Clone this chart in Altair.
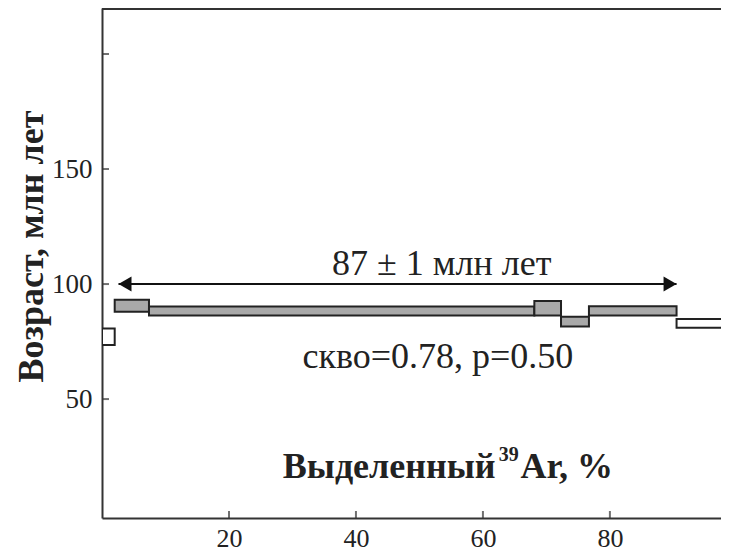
import altair as alt
import pandas as pd

# ---- data ----
step_start = [0.0, 2.0, 7.4, 68.1, 72.3, 76.7, 90.5]
step_end = [2.0, 7.4, 68.1, 72.3, 76.7, 90.5, 100.0]
age_low = [73.5, 88.0, 86.3, 86.3, 81.5, 86.3, 81.0]
age_high = [80.7, 93.2, 90.2, 92.6, 85.8, 90.4, 84.8]
in_plateau = ["нет", "да", "да", "да", "да", "да", "нет"]

plateau_from = 2.6
plateau_to = 90.5
plateau_age = 100

x_ticks = [20, 40, 60, 80]
y_ticks = [50, 100, 150, 200]
y_labels = [50, 100, 150]

W, H = 619, 510
FONT = "Liberation Serif"
INK = "#222222"

steps = pd.DataFrame({"x0": step_start, "x1": step_end, "lo": age_low,
                      "hi": age_high, "p": in_plateau})

xs = alt.Scale(domain=[0, 97.5], nice=False, zero=False)
ys = alt.Scale(domain=[-1.7, 220], nice=False, zero=False)

x_axis = alt.Axis(values=x_ticks, ticks=False, grid=False,
                  labelFont=FONT, labelFontSize=26, labelColor=INK, labelPadding=7,
                  domainColor="#333333", domainWidth=2, title=None)
y_axis = alt.Axis(values=y_labels, ticks=False, grid=False,
                  labelFont=FONT, labelFontSize=27, labelColor=INK, labelPadding=10,
                  domainColor="#333333", domainWidth=2,
                  title="Возраст, млн лет", titleFont=FONT, titleFontSize=36,
                  titleFontWeight="bold", titleColor=INK, titleAngle=270,
                  titleAlign="center", titleBaseline="alphabetic", titleX=-60, titleY=238)


def X(f):
    return alt.X(f, scale=xs, axis=x_axis)


def Y(f):
    return alt.Y(f, scale=ys, axis=y_axis)


rects = alt.Chart(steps).mark_rect(stroke=INK, strokeWidth=2, clip=True).encode(
    x=X("x0:Q"), x2="x1:Q", y=Y("lo:Q"), y2="hi:Q",
    fill=alt.Fill("p:N", scale=alt.Scale(domain=["да", "нет"], range=["#a9a9a9", "#ffffff"]),
                  legend=None),
)

arrow_df = pd.DataFrame({"a": [plateau_from], "b": [plateau_to], "y": [plateau_age]})
arrow = alt.Chart(arrow_df).mark_rule(color="#111111", strokeWidth=2).encode(
    x=X("a:Q"), x2="b:Q", y=Y("y:Q"))

head_l = alt.Chart(arrow_df).mark_point(shape="triangle-left", size=225, filled=True,
                                        color="#111111", opacity=1, xOffset=6.5).encode(
    x=X("a:Q"), y=Y("y:Q"))
head_r = alt.Chart(arrow_df).mark_point(shape="triangle-right", size=225, filled=True,
                                        color="#111111", opacity=1, xOffset=-6.5).encode(
    x=X("b:Q"), y=Y("y:Q"))

ann = pd.DataFrame({
    "t": ["87 ± 1 млн лет", "скво=0.78, p=0.50"],
    "x": [53.5, 52.9], "y": [104.0, 63.3]})
ann_text = alt.Chart(ann).mark_text(font=FONT, fontSize=36, color=INK,
                                    baseline="alphabetic", align="center").encode(
    x=X("x:Q"), y=Y("y:Q"), text="t:N")

xt1 = alt.Chart(pd.DataFrame({"t": ["Выделенный"], "x": [62.0], "y": [15.5]})).mark_text(
    font=FONT, fontSize=36, fontWeight="bold", color=INK, baseline="alphabetic", align="right"
).encode(x=X("x:Q"), y=Y("y:Q"), text="t:N")
xt2 = alt.Chart(pd.DataFrame({"t": ["39"], "x": [62.5], "y": [23.0]})).mark_text(
    font=FONT, fontSize=20, fontWeight="bold", color=INK, baseline="alphabetic", align="left"
).encode(x=X("x:Q"), y=Y("y:Q"), text="t:N")
xt3 = alt.Chart(pd.DataFrame({"t": ["Ar, %"], "x": [65.9], "y": [15.5]})).mark_text(
    font=FONT, fontSize=36, fontWeight="bold", color=INK, baseline="alphabetic", align="left"
).encode(x=X("x:Q"), y=Y("y:Q"), text="t:N")

ytick = alt.Chart(pd.DataFrame({"v": y_ticks})).mark_tick(
    orient="horizontal", size=7, thickness=2, color="#333333").encode(
    y=Y("v:Q"), x=alt.value(3.5))
xtick = alt.Chart(pd.DataFrame({"v": x_ticks})).mark_tick(
    orient="vertical", size=7, thickness=2, color="#333333").encode(
    x=X("v:Q"), y=alt.value(H - 3.5))

top = alt.Chart(pd.DataFrame({"k": [0]})).mark_rule(color="#333333", strokeWidth=2).encode(
    x=alt.value(0), x2=alt.value(W), y=alt.value(1))

chart = alt.layer(rects, arrow, head_l, head_r, ann_text, xt1, xt2, xt3, ytick, xtick, top).properties(
    width=W, height=H,
    background="white",
    autosize=alt.AutoSizeParams(type="none"),
    padding={"left": 94, "top": 0, "right": 0, "bottom": 34},
).configure_view(stroke=None)

chart.save("out.html", embed_options={"renderer": "svg", "actions": False})
